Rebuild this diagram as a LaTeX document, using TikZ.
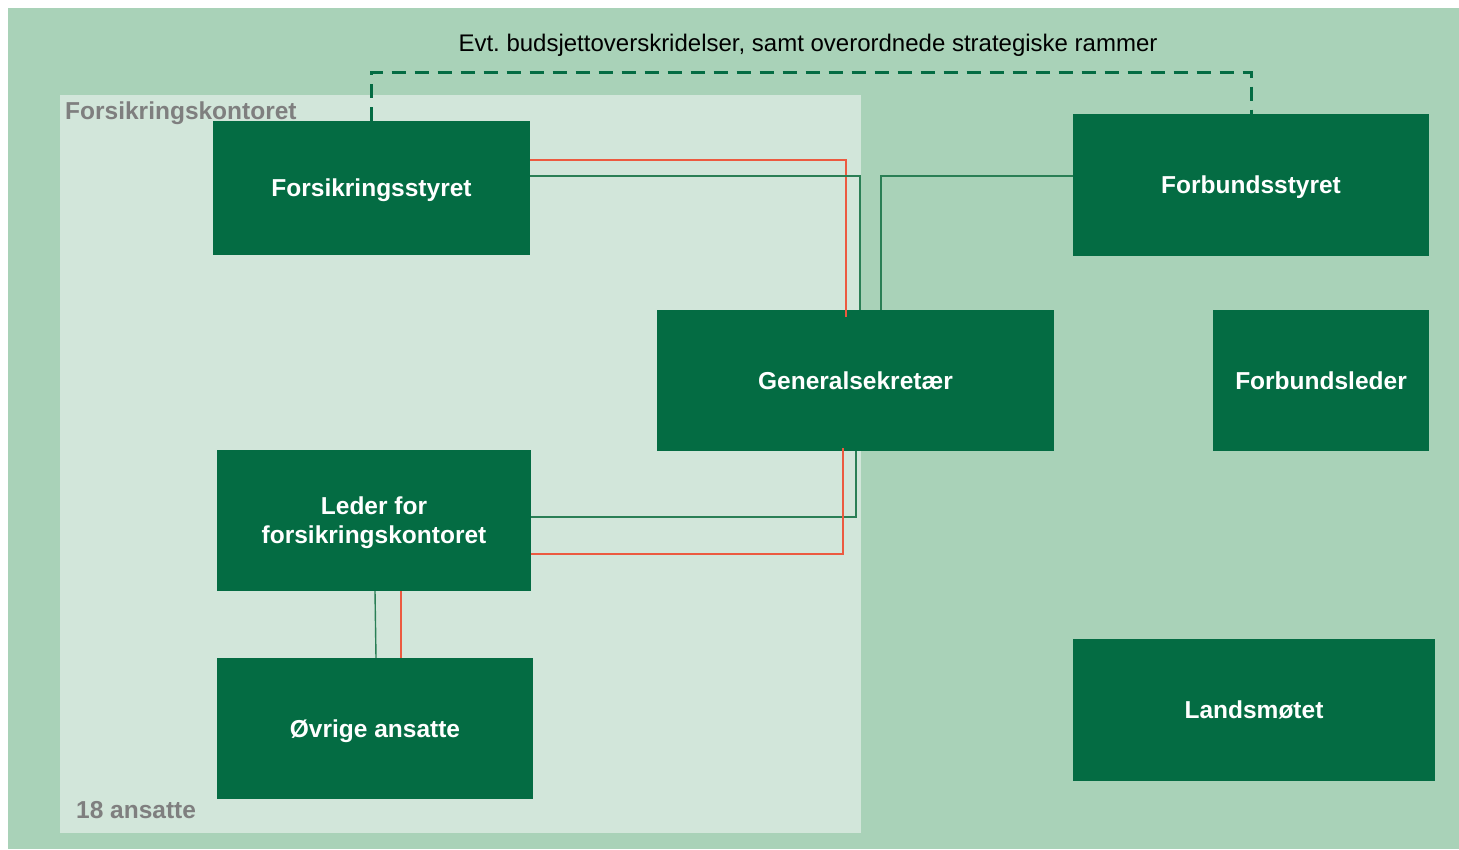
\documentclass[tikz,border=0pt]{standalone}
\usepackage{fontspec}
\setmainfont{Liberation Sans}
\frenchspacing
\definecolor{bggreen}{HTML}{A9D2B8}
\definecolor{panel}{HTML}{D2E6DA}
\definecolor{dkgreen}{HTML}{046C43}
\definecolor{lngreen}{HTML}{2A7F55}
\definecolor{lnred}{HTML}{EC5A40}
\definecolor{greytxt}{HTML}{7F7F7F}
\begin{document}
\begin{tikzpicture}[x=1pt,y=-1pt,
  box/.style={fill=dkgreen,draw=none,inner sep=0pt},
  boxtext/.style={text=white,font=\fontsize{24.5}{29}\selectfont\bfseries,inner sep=0pt,anchor=base},
  gline/.style={draw=lngreen,line width=1.4pt},
  rline/.style={draw=lnred,line width=1.4pt},
  dline/.style={draw=dkgreen,line width=3pt,dash pattern=on 14pt off 9pt},
  panellabel/.style={text=greytxt,font=\fontsize{24.5}{29}\selectfont\bfseries,inner sep=0pt}]
\fill[white] (0,0) rectangle (1459,849);
\useasboundingbox (0,0) rectangle (1459,849);
\fill[bggreen] (8,8) rectangle (1459,849);
\fill[panel] (60,95) rectangle (861,833);
\node[panellabel,anchor=base west] (pl) at (65,119) {Forsikringskontoret};
\node[panellabel,anchor=base west] (pa) at (76,818) {18 ansatte};
% boxes
\node[box,minimum width=317pt,minimum height=134pt] (fs) at (371.5,188) {};
\node[box,minimum width=356pt,minimum height=142pt] (fb) at (1251,185) {};
\node[box,minimum width=397pt,minimum height=141pt] (gs) at (855.5,380.5) {};
\node[box,minimum width=216pt,minimum height=141pt] (fl) at (1321,380.5) {};
\node[box,minimum width=314pt,minimum height=141pt] (ld) at (374,520.5) {};
\node[box,minimum width=316pt,minimum height=141pt] (ov) at (375,728.5) {};
\node[box,minimum width=362pt,minimum height=142pt] (lm) at (1254,710) {};
% box texts
\node[boxtext] (fst) at ([yshift=-8.5pt]fs.center) {Forsikringsstyret};
\node[boxtext] (fbt) at ([yshift=-8.5pt]fb.center) {Forbundsstyret};
\node[boxtext] (gst) at ([yshift=-8.5pt]gs.center) {Generalsekretær};
\node[boxtext] (flt) at ([yshift=-8.5pt]fl.center) {Forbundsleder};
\node[boxtext] (ldt1) at ([yshift=6.5pt]ld.center) {Leder for};
\node[boxtext] (ldt2) at ([yshift=-22.5pt]ld.center) {forsikringskontoret};
\node[boxtext] (ovt) at ([yshift=-8.5pt]ov.center) {Øvrige ansatte};
\node[boxtext] (lmt) at ([yshift=-8.5pt]lm.center) {Landsmøtet};
% top label and dashed line
\node[font=\fontsize{24}{29}\selectfont,inner sep=0pt,anchor=base] (lbl) at (808,51) {Evt. budsjettoverskridelser, samt overordnede strategiske rammer};
\coordinate (dl) at (808,72);
\draw[dline] (fs.north) |- (dl) -| (fb.north);
% connectors
\draw[rline] ([yshift=28pt]fs.east) -| ([xshift=-9.5pt,yshift=-7pt]gs.north);
\draw[gline] ([yshift=12pt]fs.east) -| ([xshift=4.5pt]gs.north);
\draw[gline] ([yshift=9pt]fb.west) -| ([xshift=25.5pt]gs.north);
\draw[gline] ([xshift=0.5pt]gs.south) |- ([yshift=3.5pt]ld.east);
\draw[rline] ([xshift=-12.5pt,yshift=3pt]gs.south) |- ([yshift=-33.5pt]ld.east);
\draw[gline] ([xshift=1pt]ld.south) -- ([xshift=1pt]ov.north);
\draw[rline] ([xshift=27pt]ld.south) -- ([xshift=26pt]ov.north);
\end{tikzpicture}
\end{document}
